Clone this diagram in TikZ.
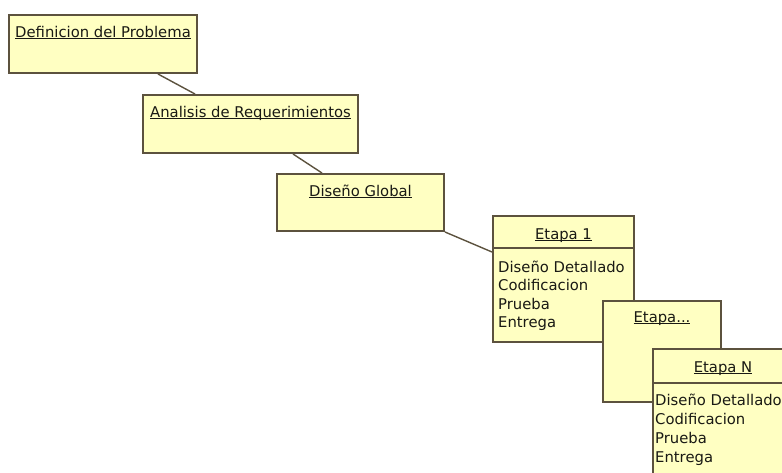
\documentclass[tikz,border=0pt]{standalone}
\usepackage{fontspec}
\setmainfont{DejaVu Sans}
\usetikzlibrary{positioning}

\definecolor{fondo}{RGB}{255,255,194}
\definecolor{borde}{RGB}{92,82,62}
\definecolor{texto}{RGB}{25,25,20}

\newcommand{\subrayado}[1]{\underline{\smash{#1}}}

\tikzset{
  caja/.style={rectangle, draw=borde, fill=fondo, line width=2pt,
    inner sep=0pt, anchor=north west},
  titulo/.style={font=\fontsize{14.8}{19}\selectfont, text=texto,
    inner sep=0pt, anchor=base},
  lista/.style={font=\fontsize{14.8}{19}\selectfont, text=texto,
    inner sep=0pt, anchor=base west},
  enlace/.style={draw=borde, line width=1.4pt},
  divisor/.style={draw=borde, line width=1.8pt}
}

\begin{document}
\begin{tikzpicture}[x=1pt, y=-1pt]
\useasboundingbox (0,0) rectangle (782,472);
\clip (0,0) rectangle (782,472);

% fases iniciales
\node[caja, minimum width=188, minimum height=58] (def) at (8,14) {};
\node[titulo] (def-t) at ([yshift=-23]def.north) {\subrayado{Definicion del Problema}};

\node[caja, minimum width=215, minimum height=58] (ana) at (142,94) {};
\node[titulo] (ana-t) at ([yshift=-23]ana.north) {\subrayado{Analisis de Requerimientos}};

\node[caja, minimum width=167, minimum height=57] (dis) at (276,173) {};
\node[titulo] (dis-t) at ([yshift=-23]dis.north) {\subrayado{Diseño Global}};

\draw[enlace] ([xshift=150]def.south west) -- ([xshift=53]ana.north west);
\draw[enlace] ([xshift=151]ana.south west) -- ([xshift=46]dis.north west);

% etapas
\node[caja, minimum width=141, minimum height=126] (et1) at (492,215) {};
\node[titulo] (et1-t) at ([yshift=-24]et1.north) {\subrayado{Etapa 1}};
\draw[divisor] ([yshift=-33]et1.north west) -- ([yshift=-33]et1.north east);
\foreach \t [count=\i] in {Diseño Detallado, Codificacion, Prueba, Entrega}
  \node[lista] (et1-\i) at ([xshift=6, yshift={-57-18.5*(\i-1)}]et1.north west) {\t};

\draw[enlace] (dis.south east) -- ([yshift=-37]et1.north west);

\node[caja, minimum width=118, minimum height=101] (etx) at (602,300) {};
\node[titulo] (etx-t) at ([yshift=-22]etx.north) {\subrayado{Etapa...}};

\node[caja, minimum width=140, minimum height=140] (etn) at (652,348) {};
\node[titulo] (etn-t) at ([yshift=-24]etn.north) {\subrayado{Etapa N}};
\draw[divisor] ([yshift=-35]etn.north west) -- ([yshift=-35]etn.north east);
\foreach \t [count=\i] in {Diseño Detallado, Codificacion, Prueba, Entrega}
  \node[lista] (etn-\i) at ([xshift=3, yshift={-57-19.3*(\i-1)}]etn.north west) {\t};
\end{tikzpicture}
\end{document}
